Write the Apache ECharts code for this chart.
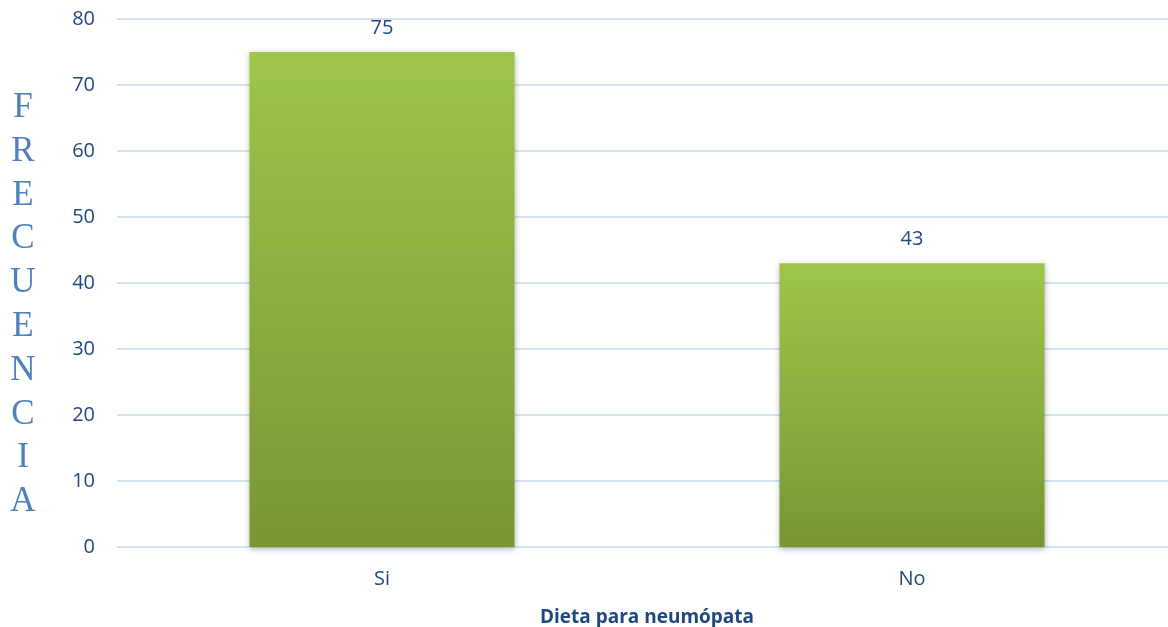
<!DOCTYPE html>
<html lang="es">
<head>
  <meta charset="UTF-8">
  <title>Dieta para neumópata</title>
  <script src="https://cdn.jsdelivr.net/npm/echarts@6/dist/echarts.min.js"></script>
  <style>
    html, body { margin: 0; padding: 0; background: #fff; }
  </style>
</head>
<body>
  <div id="main" style="width: 1168px; height: 627px;"></div>

  <script>
    // Chart data
    const categories = ['Si', 'No'];
    const frecuencia = [75, 43];
    const yTicks = [0, 10, 20, 30, 40, 50, 60, 70, 80];

    const myChart = echarts.init(document.getElementById('main'));

    const textBlue = '#1F497D';
    const gridBlue = '#D6E1F1';

    // vertical stacked title, leading blank line pushes it down a bit
    const yName = '\n' + 'FRECUENCIA'.split('').join('\n');

    const options = {
      animation: false,
      grid: { left: 117, right: -9, top: 19, bottom: 80, outerBoundsMode: 'none', containLabel: false },
      xAxis: {
        type: 'category',
        data: categories,
        name: 'Dieta para neumópata',
        nameLocation: 'middle',
        nameGap: 61,
        nameTextStyle: {
          color: textBlue,
          fontFamily: 'Open Sans',
          fontWeight: 'bold',
          fontSize: 19
        },
        axisLine: { show: false },
        axisTick: { show: false },
        axisLabel: {
          color: textBlue,
          fontFamily: 'Open Sans',
          fontSize: 20,
          margin: 22
        }
      },
      yAxis: {
        type: 'value',
        min: yTicks[0],
        max: yTicks[yTicks.length - 1],
        interval: 10,
        name: yName,
        nameLocation: 'middle',
        nameRotate: 0,
        nameGap: 94,
        nameTextStyle: {
          color: '#4F81BD',
          fontFamily: 'Liberation Serif',
          fontSize: 35,
          lineHeight: 43.8,
          align: 'center',
          verticalAlign: 'middle'
        },
        axisLine: { show: false },
        axisTick: { show: false },
        axisLabel: {
          color: textBlue,
          fontFamily: 'Open Sans',
          fontSize: 20,
          margin: 22
        },
        splitLine: { lineStyle: { color: gridBlue, width: 2 } }
      },
      series: [{
        name: 'Frecuencia',
        type: 'bar',
        data: frecuencia,
        barWidth: '50%',
        itemStyle: {
          color: new echarts.graphic.LinearGradient(0, 0, 0, 1, [
            { offset: 0, color: '#9DC64A' },
            { offset: 1, color: '#779634' }
          ]),
          shadowColor: 'rgba(0,0,0,0.3)',
          shadowBlur: 6,
          shadowOffsetY: 2
        },
        label: {
          show: true,
          position: 'top',
          distance: 14,
          color: textBlue,
          fontFamily: 'Open Sans',
          fontSize: 20
        }
      }]
    };

    myChart.setOption(options);
  </script>
</body>
</html>
